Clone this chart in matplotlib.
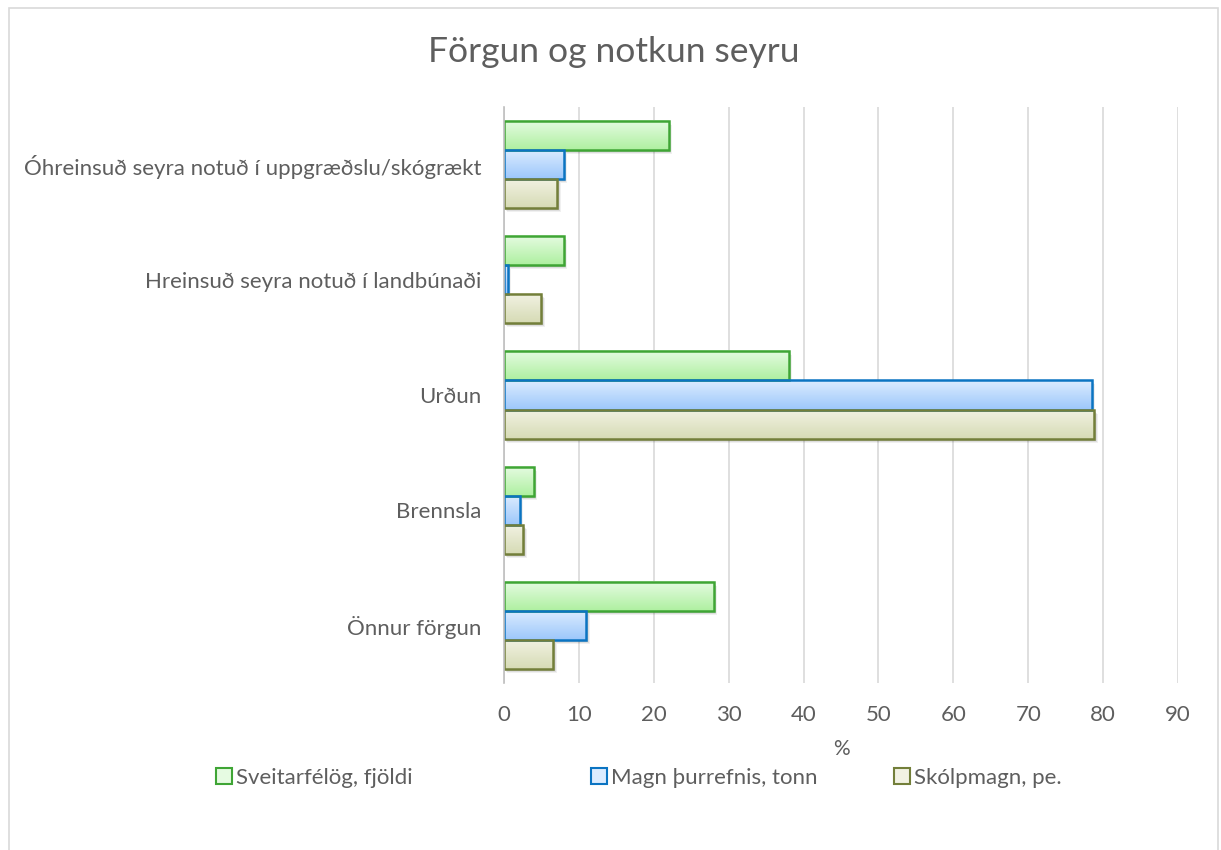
import numpy as np
import matplotlib.pyplot as plt
from matplotlib.patches import Rectangle, Patch
from matplotlib import transforms
from matplotlib.colors import to_rgb

plt.rcParams['font.family'] = ['Lato', 'DejaVu Sans']

# Flokkar (efst til neðst) og gildi í %
flokkar = [
    'Óhreinsuð seyra notuð í uppgræðslu/skógrækt',
    'Hreinsuð seyra notuð í landbúnaði',
    'Urðun',
    'Brennsla',
    'Önnur förgun',
]
sveitarfelog = [22.0, 8.0, 38.0, 4.0, 28.0]
magn_thurrefnis = [8.0, 0.5, 78.5, 2.1, 11.0]
skolpmagn = [7.1, 5.0, 78.8, 2.6, 6.6]

radir = [
    ('Sveitarfélög, fjöldi', sveitarfelog, '#e6fbe2', '#aef0a0', '#3fa535'),
    ('Magn þurrefnis, tonn', magn_thurrefnis, '#dcecff', '#9cc7fb', '#0b74c2'),
    ('Skólpmagn, pe.', skolpmagn, '#f2f2e3', '#d6dbb5', '#737f3a'),
]

texti = '#5e5e5e'
fs = 16

fig = plt.figure(figsize=(12.21, 8.5), dpi=100)
ax = fig.add_axes([504 / 1221, 1 - 683 / 850, 674 / 1221, 576 / 850])

# ramminn utan um myndina
fig.patches.append(Rectangle((9 / 1221, -0.05), 1209 / 1221, 1.05 - 8 / 850,
                             transform=fig.transFigure, fill=False,
                             edgecolor='#d9d9d9', lw=1.2))

h = 0.252
y = np.arange(len(flokkar))

for i, (nafn, gildi, ljos, dokk, brun) in enumerate(radir):
    grad = np.linspace(0, 1, 64)[:, None, None]
    img = np.array(to_rgb(ljos)) * (1 - grad) + np.array(to_rgb(dokk)) * grad
    for j, v in enumerate(gildi):
        yc = y[j] + (i - 1) * h
        # mjúkur skuggi
        for k, a in enumerate([0.10, 0.08, 0.06]):
            off = transforms.offset_copy(ax.transData, fig=fig, x=1.5 + k, y=-2 - k, units='dots')
            ax.add_patch(Rectangle((0, yc - h / 2), v, h, transform=off,
                                   facecolor='black', alpha=a, lw=0, zorder=2))
        ax.imshow(img, extent=(0, v, yc + h / 2, yc - h / 2), aspect='auto',
                  origin='upper', zorder=3, interpolation='bilinear')
        ax.add_patch(Rectangle((0, yc - h / 2), v, h, fill=False,
                               edgecolor=brun, lw=1.8, zorder=4))

ax.set_xlim(0, 90)
ax.set_ylim(len(flokkar) - 0.5, -0.5)
ax.set_xticks(np.arange(0, 91, 10))
ax.set_yticks(y)
ax.set_yticklabels(flokkar)
ax.grid(axis='x', color='#d9d9d9', lw=1.2, zorder=0)
ax.set_axisbelow(True)
for s in ['top', 'right', 'bottom']:
    ax.spines[s].set_visible(False)
ax.spines['left'].set_color('#bfbfbf')
ax.spines['left'].set_linewidth(1.2)
ax.spines['left'].set_zorder(5)
ax.tick_params(axis='both', length=0, labelsize=fs, colors=texti)
ax.tick_params(axis='y', pad=16)
ax.tick_params(axis='x', pad=16)
ax.set_xlabel('%', fontsize=15, color=texti, labelpad=10)

fig.text(0.5025, 1 - 52 / 850, 'Förgun og notkun seyru', ha='center', va='center',
         fontsize=25.5, color=texti)

# skýringar, hver á sínum stað
for (nafn, _, ljos, dokk, brun), x0 in zip(radir, [216, 591, 894]):
    lg = fig.legend(handles=[Patch(facecolor=ljos, edgecolor=brun, lw=1.5, label=nafn)],
                    loc='center left', bbox_to_anchor=(x0 / 1221, 1 - 778 / 850),
                    frameon=False, fontsize=fs, labelcolor=texti,
                    handlelength=0.7, handleheight=0.7, handletextpad=0.2,
                    borderpad=0, borderaxespad=0)

fig.savefig('out.png', dpi=100)
